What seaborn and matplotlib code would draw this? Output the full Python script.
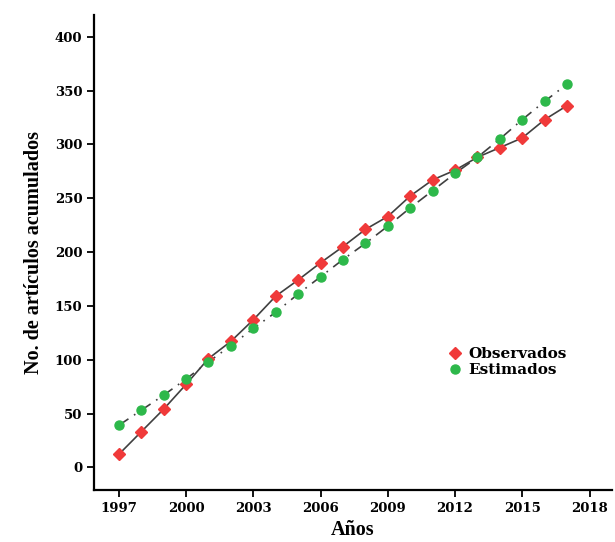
import pandas as pd
import matplotlib
matplotlib.use("Agg")
import matplotlib.pyplot as plt
import seaborn as sns

anios = list(range(1997, 2018))
observados = [12, 33, 54, 77, 101, 117, 137, 159, 174, 190, 205, 221, 233, 252, 267, 276, 288, 297, 306, 323, 336]
estimados = [39, 53, 67, 82, 98, 113, 129, 144, 161, 177, 193, 208, 224, 241, 257, 273, 288, 305, 323, 340, 356]
ticks_x = [1997, 2000, 2003, 2006, 2009, 2012, 2015, 2018]
ticks_y = [0, 50, 100, 150, 200, 250, 300, 350, 400]

df = pd.DataFrame({"Anio": anios, "Observados": observados, "Estimados": estimados})

sns.set_style("ticks")
plt.rcParams["font.family"] = ["DejaVu Serif"]
plt.rcParams["text.color"] = "black"
plt.rcParams["xtick.color"] = "black"
plt.rcParams["ytick.color"] = "black"
plt.rcParams["axes.labelcolor"] = "black"

fig = plt.figure(figsize=(6.15, 5.42), dpi=100)
ax = fig.add_axes([0.153, 0.096, 0.842, 0.876])

# lineas
sns.lineplot(data=df, x="Anio", y="Estimados", ax=ax, color="#404040", lw=1.2,
             linestyle=(0, (7, 4, 1, 4)), zorder=2)
sns.lineplot(data=df, x="Anio", y="Observados", ax=ax, color="#404040", lw=1.2, zorder=2)

# marcadores
ax.plot(df["Anio"], df["Observados"], linestyle="none", marker="D", ms=6,
        color="#f03a3a", mec="#f03a3a", zorder=3, label="Observados")
ax.plot(df["Anio"], df["Estimados"], linestyle="none", marker="o", ms=6.5,
        color="#2db84a", mec="#2db84a", zorder=3, label="Estimados")

ax.set_xlim(1995.9, 2019.0)
ax.set_ylim(-21, 420)
ax.set_xticks(ticks_x)
ax.set_yticks(ticks_y)
ax.tick_params(axis="both", direction="out", length=5, width=1.3, labelsize=9.5)
for lab in ax.get_xticklabels() + ax.get_yticklabels():
    lab.set_fontweight("bold")

sns.despine(ax=ax)
for s in ["left", "bottom"]:
    ax.spines[s].set_linewidth(1.6)
    ax.spines[s].set_color("black")

ax.set_xlabel("Años", fontsize=14.5, fontweight="bold", family="Liberation Serif", labelpad=4)
ax.set_ylabel("No. de artículos acumulados", fontsize=14.5, fontweight="bold",
              family="Liberation Serif", labelpad=8)

leg = ax.legend(loc="upper left", bbox_to_anchor=(0.655, 0.33), frameon=False,
                handletextpad=0.4, labelspacing=0.15, handlelength=1.0,
                prop={"family": "DejaVu Serif", "weight": "bold", "size": 11})

fig.savefig("out.png", dpi=100)
